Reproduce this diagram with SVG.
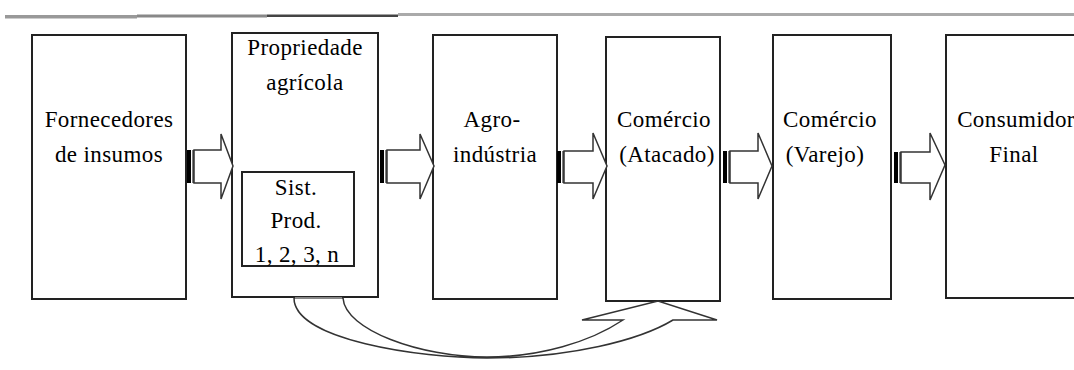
<svg xmlns="http://www.w3.org/2000/svg" width="1074" height="370" viewBox="0 0 1074 370">
<style>
.box{fill:#fff;stroke:#222;stroke-width:2}
.t{font-family:"Liberation Serif","Times New Roman",serif;font-size:23px;letter-spacing:0.4px;fill:#000;text-anchor:middle}
.arr{fill:#fff;stroke:#333;stroke-width:1.5;stroke-linejoin:miter}
.bar{fill:#000}
</style>
<rect width="1074" height="370" fill="#fff"/>
<g id="topline">
<rect x="5" y="15" width="132" height="3.5" fill="#999"/>
<rect x="137" y="14.5" width="130" height="3" fill="#888"/>
<rect x="267" y="14.5" width="131" height="2.5" fill="#444"/>
<rect x="398" y="13" width="676" height="3" fill="#aaa"/>
</g>
<g id="n1"><rect class="box" x="32" y="35" width="154" height="264"/>
<text class="t" x="109" y="127">Fornecedores</text><text class="t" x="109" y="162">de insumos</text></g>
<g id="n2"><rect class="box" x="232" y="33" width="146" height="264"/>
<text class="t" x="305" y="55">Propriedade</text><text class="t" x="305" y="90">agrícola</text></g>
<g id="n2b"><rect class="box" x="242" y="172" width="112" height="94"/>
<text class="t" x="296" y="195">Sist.</text><text class="t" x="296" y="228">Prod.</text><text class="t" x="297" y="262">1, 2, 3, n</text></g>
<g id="n3"><rect class="box" x="433" y="35" width="124" height="264"/>
<text class="t" x="492" y="127">Agro-</text><text class="t" x="495" y="162">indústria</text></g>
<g id="n4"><rect class="box" x="606" y="37" width="114" height="264"/>
<text class="t" x="664" y="127">Comércio</text><text class="t" x="667" y="162">(Atacado)</text></g>
<g id="n5"><rect class="box" x="773" y="35" width="118" height="264"/>
<text class="t" x="830" y="127">Comércio</text><text class="t" x="825" y="162">(Varejo)</text></g>
<g id="n6"><rect class="box" x="946" y="35" width="140" height="263"/>
<text class="t" x="1016" y="127">Consumidor</text><text class="t" x="1014" y="162">Final</text></g>
<g id="connectors">
<g><rect class="bar" x="187" y="150" width="4" height="33"/><rect class="bar" x="192.5" y="150" width="1.2" height="33"/>
<polygon class="arr" points="194,150 221,150 221,134 233,166 221,199 221,183 194,183"/></g>
<g><rect class="bar" x="380" y="150" width="4" height="33"/><rect class="bar" x="385.5" y="150" width="1.2" height="33"/>
<polygon class="arr" points="387,150 420,150 420,134 434,166 420,199 420,183 387,183"/></g>
<g><rect class="bar" x="557" y="151" width="4" height="32"/><rect class="bar" x="562.5" y="151" width="1.2" height="32"/>
<polygon class="arr" points="564,151 593,151 593,133 607,166 593,199 593,183 564,183"/></g>
<g><rect class="bar" x="723" y="151" width="4" height="32"/><rect class="bar" x="728.5" y="151" width="1.2" height="32"/>
<polygon class="arr" points="730,151 758,151 758,133 772,166 758,199 758,183 730,183"/></g>
<g><rect class="bar" x="894" y="152" width="4" height="31"/><rect class="bar" x="899.5" y="152" width="1.2" height="31"/>
<polygon class="arr" points="901,152 930,152 930,133 945,165 930,200 930,183 901,183"/></g>
<path class="arr" d="M294,298 C294,340 420,358 487,358 C570,358 640,340 673,320 L717,320 L658,301 L582,320 L623,320 C590,342 540,357 487,357 C420,357 345,330 343,298 Z"/>
<line x1="295" y1="298" x2="342" y2="298" stroke="#888" stroke-width="2"/>
</g>
</svg>
